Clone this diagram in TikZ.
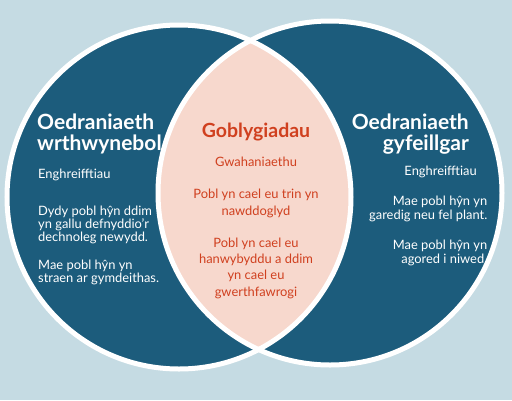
\documentclass[tikz,border=0pt]{standalone}
\usepackage{fontspec}
\setmainfont{Lato}
\definecolor{bgblue}{HTML}{C5DBE3}
\definecolor{darkblue}{HTML}{1C5C7C}
\definecolor{lenspink}{HTML}{F7D8CD}
\definecolor{redtext}{HTML}{D0401F}
\tikzset{
  circleborder/.style={draw=white,line width=5pt},
  titletext/.style={inner sep=0pt,text=white,font={\fontsize{21}{21.5}\selectfont\bfseries}},
  bodytext/.style={inner sep=0pt,text=white,font={\fontsize{12.9}{13.4}\selectfont}},
  bodytextr/.style={inner sep=0pt,text=white,font={\fontsize{12.9}{14.2}\selectfont}},
  redtitle/.style={inner sep=0pt,text=redtext,font={\fontsize{19.5}{21}\selectfont\bfseries}},
  redbody/.style={inner sep=0pt,text=redtext,align=center,font={\fontsize{12.9}{16.3}\selectfont}},
}
\begin{document}
\begin{tikzpicture}[x=1pt,y=-1pt]
\useasboundingbox (0,0) rectangle (512,400);
\fill[bgblue] (0,0) rectangle (512,400);
\coordinate (lc) at (179,197);
\coordinate (rc) at (330,193);
\fill[darkblue] (lc) circle[radius=172pt];
\fill[darkblue] (rc) circle[radius=172pt];
\begin{scope}
  \clip (lc) circle[radius=172pt];
  \fill[lenspink] (rc) circle[radius=172pt];
\end{scope}
\draw[circleborder] (lc) circle[radius=172pt];
\draw[circleborder] (rc) circle[radius=172pt];
% left (base anchor = baseline of the last line)
\node[titletext,align=left,anchor=base west] (lt) at (37,150.5) {Oedraniaeth\\wrthwynebol};
\node[bodytext,anchor=base west] (le) at (38,178) {Enghreifftiau};
\node[bodytext,align=left,anchor=base west] (l1) at (38,241.8) {Dydy pobl hŷn ddim\\yn gallu defnyddio’r\\dechnoleg newydd.};
\node[bodytext,align=left,anchor=base west] (l2) at (38,282.7) {Mae pobl hŷn yn\\straen ar gymdeithas.};
% right
\node[titletext,align=right,anchor=base east] (rt) at (469,150.5) {Oedraniaeth\\gyfeillgar};
\node[bodytextr,anchor=base east] (re) at (477,175) {Enghreifftiau};
\node[bodytextr,align=right,anchor=base east] (r1) at (487.5,219.3) {Mae pobl hŷn yn\\garedig neu fel plant.};
\node[bodytextr,align=right,anchor=base east] (r2) at (487.5,263.5) {Mae pobl hŷn yn\\agored i niwed.};
% centre
\node[redtitle,anchor=base] (ct) at (256,137) {Goblygiadau};
\node[redbody,anchor=base] (c1) at (256,166) {Gwahaniaethu};
\node[redbody,anchor=base] (c2) at (256,215) {Pobl yn cael eu trin yn\\nawddoglyd};
\node[redbody,anchor=base] (c3) at (256,296) {Pobl yn cael eu\\hanwybyddu a ddim\\yn cael eu\\gwerthfawrogi};
\end{tikzpicture}
\end{document}
